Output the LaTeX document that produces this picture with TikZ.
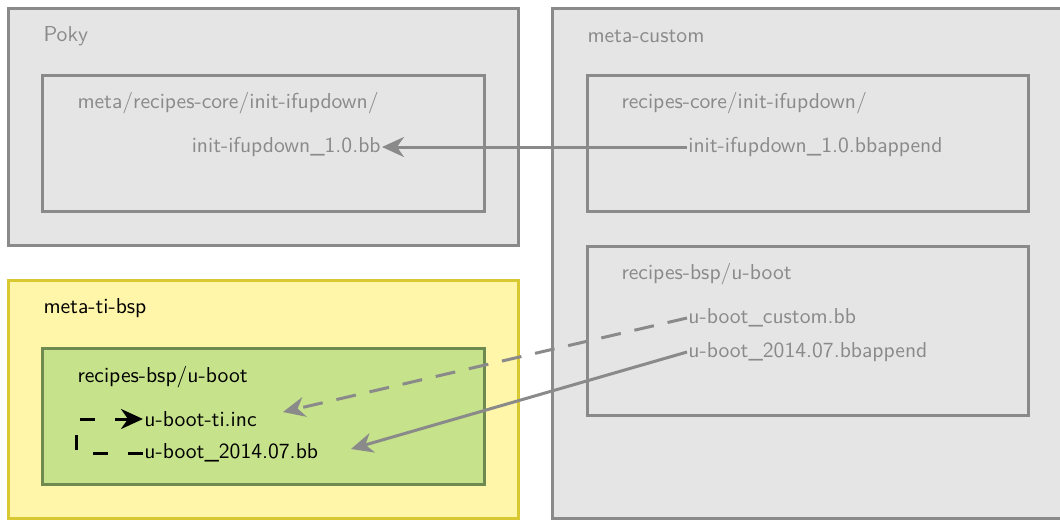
\documentclass[tikz,border=0pt]{standalone}
\usepackage{tikz}
\usetikzlibrary{arrows.meta}
\definecolor{boxgray}{HTML}{E5E5E5}
\definecolor{linegray}{HTML}{8A8A8A}
\definecolor{tiyellow}{HTML}{FFF6A9}
\definecolor{tiyellowline}{HTML}{D8C832}
\definecolor{bspgreen}{HTML}{C6E28B}
\definecolor{bspgreenline}{HTML}{6F8A50}

\begin{document}
\begin{tikzpicture}[x=0.5pt,y=-0.5pt,font=\sffamily\fontsize{10.8}{12}\selectfont,
    layer/.style={line width=1.5pt},
    txt/.style={inner sep=0.5pt, anchor=west},
    tip/.style={-{Stealth[length=11pt,width=10pt,inset=3.5pt]}},
    link/.style={draw=linegray, line width=1.5pt, tip}]
    \clip (0,0) rectangle (1060,520);
    % poky layer
    \draw[layer, draw=linegray, fill=boxgray] (8,8) rectangle (518,245) node[txt, text=linegray] (poky) at (41,36) {Poky};
    \draw[layer, draw=linegray] (42,75) rectangle (484,211) node[txt, text=linegray] (pokydir) at (75,103) {meta/recipes-core/init-ifupdown/};
    \node[txt, anchor=east, text=linegray] (ifupbb) at (382,147) {init-ifupdown\_1.0.bb};
    % meta-custom layer
    \draw[layer, draw=linegray, fill=boxgray] (552,8) rectangle (1075,518) node[txt, text=linegray] (custom) at (585,36) {meta-custom};
    \draw[layer, draw=linegray] (587,75) rectangle (1028,211) node[txt, text=linegray] (customcore) at (619,103) {recipes-core/init-ifupdown/};
    \node[txt, text=linegray] (ifupappend) at (687,147) {init-ifupdown\_1.0.bbappend};
    \draw[layer, draw=linegray] (587,246) rectangle (1028,415) node[txt, text=linegray] (custombsp) at (619,274) {recipes-bsp/u-boot};
    \node[txt, text=linegray] (ubootcustom) at (687,318) {u-boot\_custom.bb};
    \node[txt, text=linegray] (ubootappend) at (687,352) {u-boot\_2014.07.bbappend};
    % meta-ti-bsp layer
    \draw[layer, draw=tiyellowline, fill=tiyellow] (8,280) rectangle (518,518) node[txt] (tibsp) at (41,308) {meta-ti-bsp};
    \draw[layer, draw=bspgreenline, fill=bspgreen] (42,348) rectangle (484,484) node[txt] (tiuboot) at (75,377) {recipes-bsp/u-boot};
    \node[txt] (tiinc) at (143,419) {u-boot-ti.inc};
    \node[txt] (tibb) at (143,453) {u-boot\_2014.07.bb};
    \coordinate (incend) at (283,412);
    \coordinate (bbend) at (351,449);
    % links
    \draw[link] (ifupappend.west) -- (ifupbb.east);
    \draw[link, dash pattern=on 10pt off 7pt] (ubootcustom.west) -- (incend);
    \draw[link] (ubootappend.west) -- (bbend);
    \draw[line width=1.5pt, tip, dash pattern=on 7.5pt off 10pt] (tibb.west) -- ++(-67,0) |- (tiinc.west);
\end{tikzpicture}
\end{document}
